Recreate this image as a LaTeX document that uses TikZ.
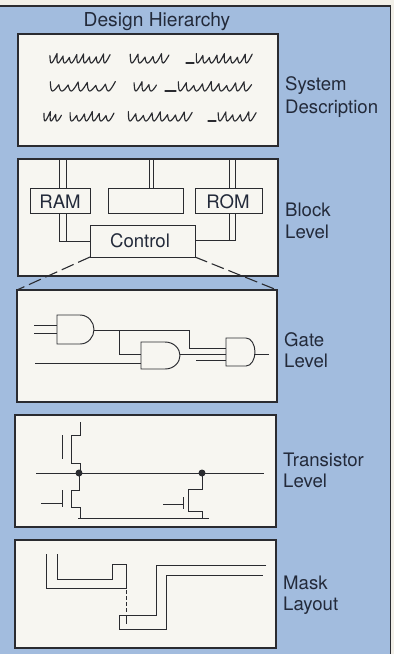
\documentclass[tikz,border=0pt]{standalone}
\usepackage{fontspec}
\setmainfont{TeX Gyre Heros}
\definecolor{bluebg}{HTML}{A2BCDE}
\definecolor{paper}{HTML}{F7F6F1}
\definecolor{offw}{HTML}{F1EFE8}
\definecolor{ink}{HTML}{2A2B30}
\definecolor{tink}{HTML}{232A3A}
\tikzset{
  panel/.style={draw=ink,fill=paper,line width=1.9pt,inner sep=0,outer sep=0,anchor=north west},
  block/.style={draw=ink,line width=.95pt,inner sep=0,outer sep=0,anchor=north west},
  lbl/.style={anchor=base west,inner sep=0,font=\fontsize{18.6}{23}\selectfont,text=tink},
  blbl/.style={anchor=base,inner sep=0,font=\fontsize{18.6}{23}\selectfont,text=tink},
  wire/.style={draw=ink,line width=.95pt,line join=miter},
  scribble/.style={draw=ink,line width=1.15pt,line join=round,line cap=round},
  jdot/.style={circle,fill=ink,inner sep=0,minimum size=7pt}
}
\newcommand{\scrib}[5]{% x1 x2 baseline humps phase
  \draw[scribble] plot[variable=\t,domain=0:#4,samples=#4*10+1]
    ({#1+(#2-#1)*\t/#4+.25*(7.5+2*sin(97*\t+#5))*(1-abs(sin(180*\t)))},{#3-(7.5+2*sin(97*\t+#5))*(1-abs(sin(180*\t)))});}
\newcommand{\andgate}[6]{% name x-left x-flat x-tip y-top y-bot
  \draw[wire,fill=paper] (#2,#5) -- (#3,#5) .. controls ({#3+(#4-#3)*.6},#5) and (#4,{#5+(#6-#5)*.25}) .. (#4,{(#5+#6)/2})
    .. controls (#4,{#5+(#6-#5)*.75}) and ({#3+(#4-#3)*.6},#6) .. (#3,#6) -- (#2,#6) -- cycle;
  \coordinate (#1) at (#4,{(#5+#6)/2});}
\begin{document}
\begin{tikzpicture}[x=1pt,y=-1pt]
\useasboundingbox (0,0) rectangle (394,654);
\fill[offw] (0,0) rectangle (394,654);
\draw[ink,line width=1.1pt,fill=bluebg] (-3,6) -- (390.5,6) -- (390.5,657) -- (-3,657) -- cycle;
\node[anchor=base,inner sep=0,font=\fontsize{19.2}{23}\selectfont,text=tink] (title) at (157,26) {Design Hierarchy};

% System description
\node[panel,minimum width=260pt,minimum height=112pt] (sys) at (18,34) {};
\scrib{48}{108}{63}{9}{0}  \scrib{128}{167}{63}{5}{40}  \draw[scribble] (186,63) -- (194,63); \scrib{194}{250}{63}{8}{80}
\scrib{48}{113}{91}{7}{120} \scrib{132}{155}{91}{3}{20}  \draw[scribble] (165,91) -- (176,91); \scrib{176}{250}{91}{9}{60}
\scrib{42}{60}{121}{3}{10} \scrib{68}{112}{121}{6}{150}  \scrib{126}{190}{121}{8}{90}  \draw[scribble] (208,121) -- (216,121); \scrib{216}{254}{121}{5}{30}
\node[lbl] (l1a) at (285,90) {System};
\node[lbl] (l1b) at (285,113) {Description};

% Block level
\node[panel,minimum width=260pt,minimum height=117pt] (blk) at (18,159) {};
\node[panel,minimum width=260pt,minimum height=112pt] (gate) at (17,290) {};
\node[block,minimum width=60pt,minimum height=25pt] (ram) at (30,188) {};
\node[block,minimum width=75pt,minimum height=25pt] (mid) at (108,188) {};
\node[block,minimum width=67pt,minimum height=25pt] (rom) at (195,188) {};
\node[block,minimum width=105pt,minimum height=32pt] (ctl) at (90,225) {};
\node[blbl] (ramt) at (60,208) {RAM};
\node[blbl] (romt) at (228,208) {ROM};
\node[blbl] (ctlt) at (140,247) {Control};
\draw[wire] (59,159) -- (59,188) (66,159) -- (66,188);
\draw[wire] (149,159) -- (149,188) (153,159) -- (153,188);
\draw[wire] (229,159) -- (229,188) (235,159) -- (235,188);
\draw[wire] (59,213) -- (59,241) -- (ctl.west |- 0,241);
\draw[wire] (66,213) -- (66,241);
\draw[wire] (229,213) -- (229,240);
\draw[wire] (235,213) -- (235,240) -- (ctl.east |- 0,240);
\draw[ink,line width=1.1pt,dash pattern=on 13pt off 5pt] (ctl.south west) -- (gate.north west);
\draw[ink,line width=1.1pt,dash pattern=on 13pt off 5pt] (ctl.south east) -- (gate.north east);
\node[lbl] (l2a) at (285,216) {Block};
\node[lbl] (l2b) at (285,238) {Level};

% Gate level
\andgate{g1}{57}{80}{94}{315}{344}
\andgate{g2}{141}{165}{180}{342}{369}
\andgate{g3}{226}{246}{255}{338}{366}
\draw[wire] (34,325) -- (57,325) (34,333) -- (57,333);
\draw[wire] (g1 |- 0,330) -- (189,330) -- (189,348) -- (226,348);
\draw[wire] (119,330) -- (119,354) -- (141,354);
\draw[wire] (35,363) -- (141,363);
\draw[wire] (g2 |- 0,354) -- (226,354);
\draw[wire] (196,360) -- (226,360);
\draw[wire] (g3 |- 0,354) -- (269,354);
\node[lbl] (l3a) at (284,346) {Gate};
\node[lbl] (l3b) at (284,367) {Level};

% Transistor level
\node[panel,minimum width=261pt,minimum height=112pt] (tr) at (15,415) {};
\draw[wire] (80,422) -- (80,435) -- (71,435) -- (71,463) -- (80,463) -- (80,473);
\draw[wire] (62,435) -- (62,459);
\draw[wire] (36,473) -- (264,473);
\draw[wire] (79,473) -- (79,490) -- (71,490) -- (71,507) -- (80,507) -- (80,518);
\draw[wire] (62,490) -- (62,507);
\draw[wire] (41,503) -- (62,503);
\draw[wire] (78,518) -- (209,518);
\draw[wire] (202,473) -- (202,489) -- (188,489) -- (188,511) -- (202,511) -- (202,518);
\draw[wire] (183,497) -- (183,509);
\draw[wire] (163,504) -- (183,504);
\node[jdot] (d1) at (79,473) {};
\node[jdot] (d2) at (202,473) {};
\node[lbl] (l4a) at (283,466) {Transistor};
\node[lbl] (l4b) at (283,487) {Level};

% Mask layout
\node[panel,minimum width=261pt,minimum height=108pt] (mask) at (15,540) {};
\draw[wire] (46,554) -- (46,588) -- (126,588) -- (126,564) -- (112,564) -- (112,579) -- (57,579) -- (57,554);
\draw[wire,dash pattern=on 3.5pt off 2.5pt] (126,590) -- (126,612);
\draw[wire] (126,615) -- (126,624);
\draw[wire] (266,565) -- (156,565) -- (156,615) -- (119,615) -- (119,629) -- (166,629) -- (166,575) -- (263,575);
\node[lbl] (l5a) at (283,589) {Mask};
\node[lbl] (l5b) at (283,610) {Layout};
\end{tikzpicture}
\end{document}
